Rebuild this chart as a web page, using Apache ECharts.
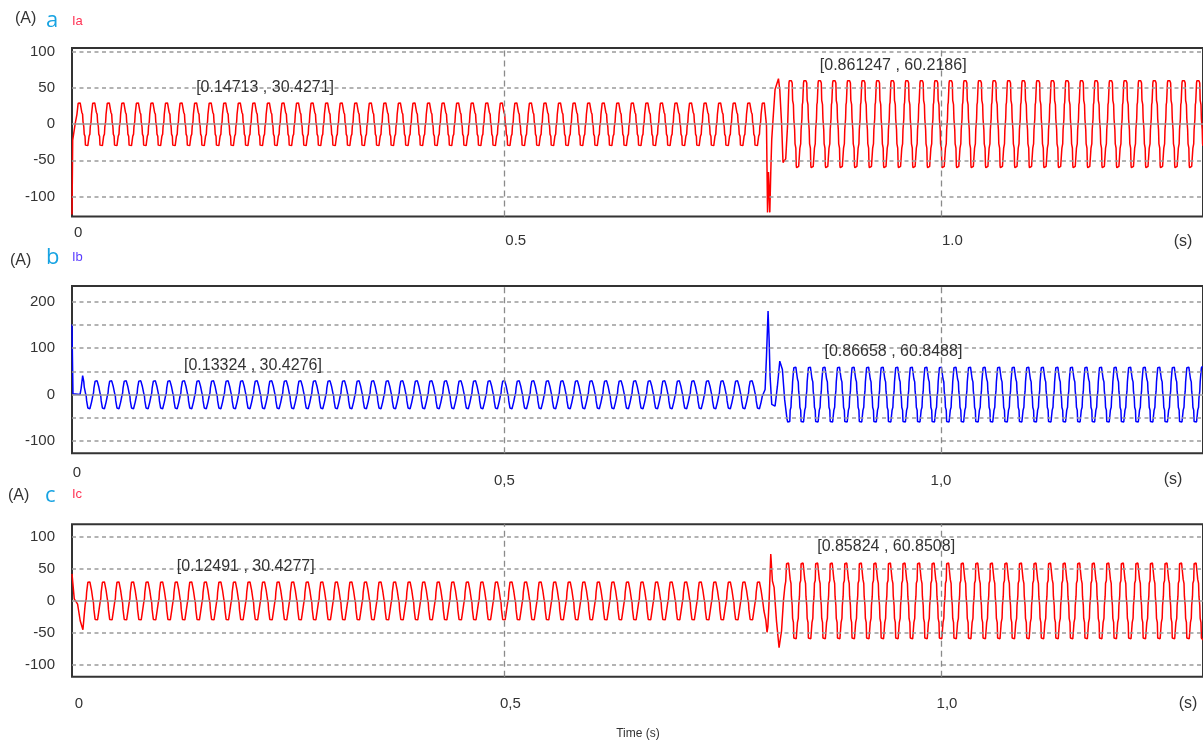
<!DOCTYPE html>
<html>
<head>
<meta charset="utf-8">
<script src="https://cdn.jsdelivr.net/npm/echarts@6/dist/echarts.min.js"></script>
<style>
html, body { margin: 0; padding: 0; background: #fff; }
#chart { width: 1203px; height: 744px; }
</style>
</head>
<body>
<div id="chart"></div>
<script>
// ---- sampling ----
const FREQ = 60;               // Hz
const STEPS_PER_CYCLE = 36;    // 10 degree steps
const T_START = 0.005;         // s, first plotted instant
const T_END = 1.3;             // s

// one cycle of the stepped line current, per unit of its peak (10 degree steps)
const cycleShape = [
  0, 0.12, 0.45, 0.5, 0.52, 0.95, 1.0, 0.97, 1.0, 1.0, 0.97, 1.0, 0.97, 0.95, 0.55, 0.5, 0.45, 0.12,
  0, -0.12, -0.45, -0.5, -0.55, -0.95, -1.0, -1.0, -0.97, -1.0, -1.0, -0.97, -1.0, -0.95, -0.55, -0.5, -0.45, -0.12
];

const phaseNames = ['Ia', 'Ib', 'Ic'];
const panelLetters = ['a', 'b', 'c'];
const phaseColors = ['#ff0000', '#0000ff', '#ff0000'];
const nameColors = ['#ff3355', '#5a3cff', '#ff3355'];

// cursor read-outs [time (s), current (A)]
const cursorBefore = [[0.14713, 30.4271], [0.13324, 30.4276], [0.12491, 30.4277]];
const cursorAfter = [[0.861247, 60.2186], [0.86658, 60.8488], [0.85824, 60.8508]];

// cycle position (index into cycleShape) added to the sample number, before / after the load step
const shapeOffsetBefore = [15, 9, 27];
const shapeOffsetAfter = [21, 9, 27];
// steady-state sample ranges: [first before step, last before step, first after step]
const steadyRanges = [[21, 1726, 1784], [41, 1719, 1781], [45, 1719, 1776]];

// start-up transients [time, current]
const startIa = [[0.005, -125], [0.0058, -22], [0.0088, 2]];
const startIb = [[0.005, 151], [0.0054, 93], [0.0061, 2], [0.0142, 0], [0.0155, 14], [0.0172, 41], [0.0185, 28]];
const startIc = [[0.005, 42], [0.0076, 3], [0.0114, -5], [0.0144, -31], [0.0175, -45], [0.0201, -5]];

// transients at the 0.8 s load step [time, current]
const stepIa = [[0.8002, -2], [0.8014, -122], [0.8025, -66], [0.804, -122], [0.8051, -66], [0.8062, -21],
                [0.8077, 7], [0.81, 48], [0.8139, 63], [0.8154, 48], [0.8176, -2], [0.8191, -53],
                [0.8222, -48], [0.8245, 2]];
const stepIb = [[0.7972, -5], [0.7986, 11], [0.8002, 83], [0.802, 180], [0.8032, 118], [0.8043, 40],
                [0.8062, -21], [0.81, -25], [0.8127, 18], [0.8154, 72], [0.8184, 54], [0.821, -11],
                [0.8236, -52]];
const stepIc = [[0.7972, -15], [0.7994, -30], [0.8008, -49], [0.8018, -40], [0.8032, 0], [0.8051, 73],
                [0.807, 31], [0.8089, 21], [0.8116, -31], [0.8146, -73], [0.8174, -47], [0.8196, 0],
                [0.8212, 22]];

// axis ticks
const xTickValues = [T_START, 0.5, 1.0];
const xTickLabelsDot = ['0', '0.5', '1.0'];
const xTickLabelsComma = ['0', '0,5', '1,0'];
const yTicksA = [100, 50, 0, -50, -100];
const yTicksB = [200, 100, 0, -100];
const yTicksC = [100, 50, 0, -50, -100];
const yGridA = [100, 50, -50, -100];
const yGridB = [200, 150, 100, 50, -50, -100];
const yGridC = [100, 50, -50, -100];
const xGrid = [0.5, 1.0];

const startTransients = [startIa, startIb, startIc];
const stepTransients = [stepIa, stepIb, stepIc];
const SAMPLES_PER_SEC = FREQ * STEPS_PER_CYCLE;

function pushSteady(points, kFrom, kTo, amp, off) {
  for (let k = kFrom; k <= kTo; k++) {
    points.push([k / SAMPLES_PER_SEC, amp * cycleShape[(k + off) % STEPS_PER_CYCLE]]);
  }
}

function buildCurrent(i) {
  const pts = [];
  startTransients[i].forEach(p => pts.push(p));
  pushSteady(pts, steadyRanges[i][0], steadyRanges[i][1], cursorBefore[i][1], shapeOffsetBefore[i]);
  stepTransients[i].forEach(p => pts.push(p));
  pushSteady(pts, steadyRanges[i][2], Math.floor(T_END * SAMPLES_PER_SEC), cursorAfter[i][1], shapeOffsetAfter[i]);
  return pts;
}

const SANS = "'Liberation Sans', Arial, sans-serif";
const TICK_FONT = 15;

// panel geometry
const panels = [
  { top: 48, height: 168.5, yMin: -127.7, yMax: 105.5, yTicks: yTicksA, yGrid: yGridA,
    xLabels: xTickLabelsDot, xAlign: 'left', xMargin: 9,
    zeroPad: [0, 0, 0, 2], tickPad: [8, 0, 0, 1] },
  { top: 286, height: 167.3, yMin: -126.5, yMax: 233.8, yTicks: yTicksB, yGrid: yGridB,
    xLabels: xTickLabelsComma, xAlign: 'center', xMargin: 12,
    zeroPad: [0, 0, 0, 10], tickPad: [8, 0, 0, 0] },
  { top: 524.3, height: 152.4, yMin: -118.2, yMax: 119.3, yTicks: yTicksC, yGrid: yGridC,
    xLabels: xTickLabelsComma, xAlign: 'center', xMargin: 20,
    zeroPad: [0, 0, 0, 14], tickPad: [0, 0, 0, 12] }
];

const grid = [], xAxis = [], yAxis = [], series = [];

panels.forEach((p, i) => {
  grid.push({ left: 72, right: -7.3, top: p.top, height: p.height, show: true,
              borderColor: '#333', borderWidth: 2, backgroundColor: 'transparent' });
  xAxis.push({
    type: 'value', gridIndex: i, min: T_START, max: T_END,
    axisLine: { show: false }, axisTick: { show: false }, splitLine: { show: false },
    axisLabel: {
      customValues: xTickValues,
      margin: p.xMargin, align: p.xAlign, verticalAlign: 'top',
      fontFamily: SANS, fontSize: TICK_FONT, color: '#333',
      formatter: v => {
        const idx = xTickValues.findIndex(t => Math.abs(t - v) < 1e-9);
        const txt = idx >= 0 ? p.xLabels[idx] : '';
        return idx === 0 ? '{z|' + txt + '}' : '{n|' + txt + '}';
      },
      rich: {
        z: { padding: p.zeroPad, fontFamily: SANS, fontSize: TICK_FONT, color: '#333' },
        n: { padding: p.tickPad, fontFamily: SANS, fontSize: TICK_FONT, color: '#333' }
      }
    }
  });
  yAxis.push({
    type: 'value', gridIndex: i, min: p.yMin, max: p.yMax,
    axisLine: { show: false }, axisTick: { show: false }, splitLine: { show: false },
    axisLabel: {
      customValues: p.yTicks, margin: 17,
      fontFamily: SANS, fontSize: TICK_FONT, color: '#333'
    }
  });

  // grid lines, kept beneath the waveform
  const gl = p.yGrid.map(v => ({ yAxis: v, lineStyle: { color: '#9a9a9a', width: 1.6, type: [4, 3.5] } }));
  gl.push({ yAxis: 0, lineStyle: { color: '#9a9a9a', width: 1.6, type: 'solid' } });
  xGrid.forEach(v => gl.push({ xAxis: v, lineStyle: { color: '#8a8a8a', width: 1.3, type: [6, 4] } }));
  series.push({
    type: 'line', xAxisIndex: i, yAxisIndex: i, data: [], silent: true, z: 1,
    markLine: { symbol: ['none', 'none'], silent: true, animation: false,
                label: { show: false }, data: gl }
  });

  const marks = [cursorBefore[i], cursorAfter[i]].map(c => ({
    name: '[' + c[0] + ' , ' + c[1] + ']', coord: c
  }));
  series.push({
    name: phaseNames[i], type: 'line', xAxisIndex: i, yAxisIndex: i, z: 3,
    data: buildCurrent(i), showSymbol: false, animation: false, sampling: null,
    lineStyle: { color: phaseColors[i], width: 1.5 },
    markPoint: {
      symbol: 'circle', symbolSize: 0, silent: true, animation: false,
      itemStyle: { color: 'transparent' },
      label: { show: true, position: [0, -15], align: 'left', verticalAlign: 'middle',
               fontFamily: SANS, fontSize: 16, color: '#333', formatter: q => q.name },
      data: marks
    }
  });
});

// panel captions and unit labels
const captionTop = [[15, 20, 46, 25, 72, 22.5], [10, 262, 46, 262, 72, 259], [8, 497, 45, 500, 72, 496]];
const unitS = [[1183, 242], [1173, 480], [1188, 704]];
const graphic = [];
panels.forEach((p, i) => {
  const c = captionTop[i];
  graphic.push({ type: 'text', left: c[0], top: c[1] - 9,
    style: { text: '(A)', font: '16px ' + SANS, fill: '#333' } });
  graphic.push({ type: 'text', left: c[2], top: c[3] - 15,
    style: { text: panelLetters[i], font: '22px "Open Sans", "Noto Sans", sans-serif', fill: '#17a3e2' } });
  graphic.push({ type: 'text', left: c[4], top: c[5] - 8,
    style: { text: phaseNames[i], font: '13px ' + SANS, fill: nameColors[i] } });
  graphic.push({ type: 'text', x: unitS[i][0], y: unitS[i][1],
    style: { text: '(s)', font: '16px ' + SANS, fill: '#333', align: 'center', verticalAlign: 'middle' } });
});
graphic.push({ type: 'text', x: 638, y: 734,
  style: { text: 'Time (s)', font: '12px ' + SANS, fill: '#333', align: 'center', verticalAlign: 'middle' } });

const chart = echarts.init(document.getElementById('chart'), null, { renderer: 'canvas' });
chart.setOption({
  animation: false,
  backgroundColor: '#fff',
  grid, xAxis, yAxis, series, graphic
});
</script>
</body>
</html>
